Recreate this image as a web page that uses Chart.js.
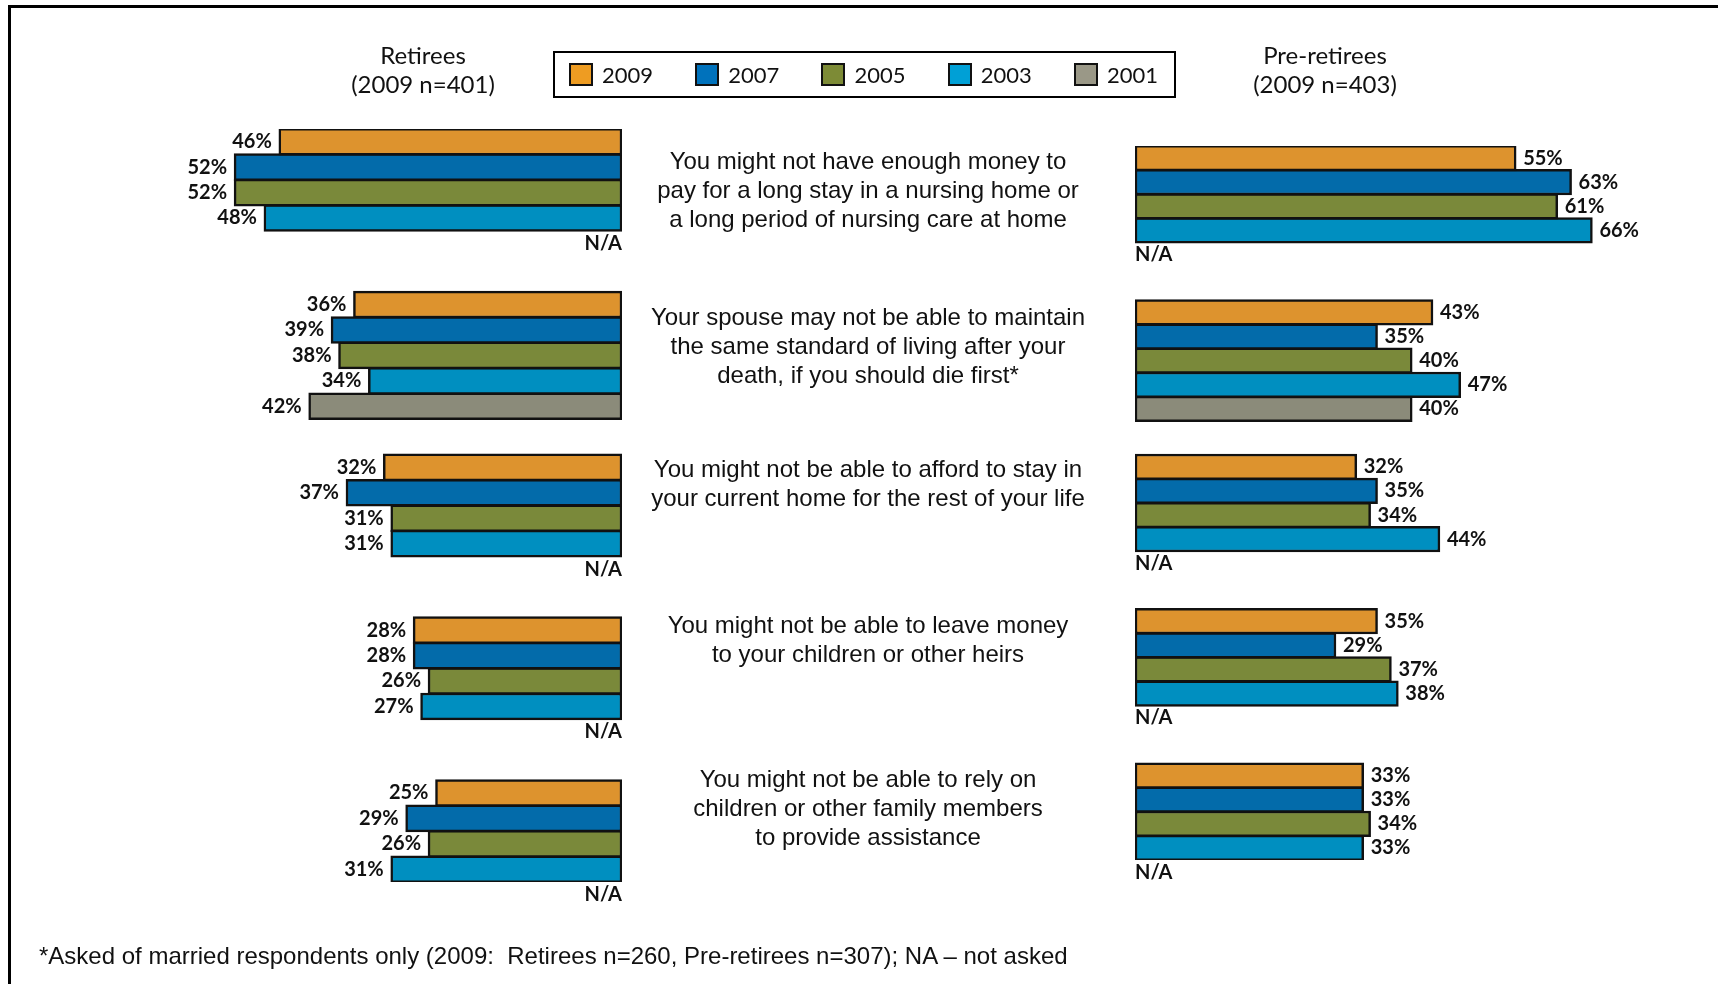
<!DOCTYPE html>
<html>
<head>
<meta charset="utf-8">
<title>Retirement risks</title>
<script src="https://cdn.jsdelivr.net/npm/chart.js@4.4.0/dist/chart.umd.min.js"></script>
<style>
  html, body { margin: 0; padding: 0; background: #fff; }
  #page { position: relative; width: 1718px; height: 984px; overflow: hidden; font-family: Lato, "Noto Sans", sans-serif; color: #111; }
  #frame { position: absolute; left: 8px; top: 5px; width: 2000px; height: 2000px; border-top: 3px solid #000; border-left: 3px solid #000; }
  canvas { position: absolute; left: 0; top: 0; }
  .head { position: absolute; top: 40px; width: 300px; text-align: center; font-size: 24px; line-height: 29px; }
  .question { position: absolute; left: 568px; width: 600px; text-align: center; font-family: "Liberation Sans", Arial, sans-serif; font-size: 24px; line-height: 29px; color: #111; }
  #legend { position: absolute; left: 553px; top: 51px; width: 623px; height: 47px; box-sizing: border-box; border: 2.5px solid #000; display: flex; align-items: center; justify-content: space-between; padding: 0 16px 0 14px; font-size: 22px; }
  #legend .item { display: flex; align-items: center; }
  #legend .swatch { width: 24px; height: 23px; box-sizing: border-box; border: 2px solid #111; margin-right: 9px; }
  #footnote { position: absolute; left: 39px; top: 943px; font-family: "Liberation Sans", Arial, sans-serif; font-size: 24px; line-height: 26px; white-space: pre; }
</style>
</head>
<body>
<div id="page">
  <div id="frame"></div>
  <canvas id="leftChart" width="1718" height="984"></canvas>
  <canvas id="rightChart" width="1718" height="984"></canvas>
  <div class="head" style="left:273px">Retirees<br>(2009 n=401)</div>
  <div class="head" style="left:1175px">Pre-retirees<br>(2009 n=403)</div>
  <div id="legend"></div>
  <div id="questions"></div>
  <div id="footnote">*Asked of married respondents only (2009:  Retirees n=260, Pre-retirees n=307); NA – not asked</div>
</div>

<script>
// Survey statements (line breaks as in the original)
const questions = [
  ['You might not have enough money to', 'pay for a long stay in a nursing home or', 'a long period of nursing care at home'],
  ['Your spouse may not be able to maintain', 'the same standard of living after your', 'death, if you should die first*'],
  ['You might not be able to afford to stay in', 'your current home for the rest of your life'],
  ['You might not be able to leave money', 'to your children or other heirs'],
  ['You might not be able to rely on', 'children or other family members', 'to provide assistance']
];

const years = ['2009', '2007', '2005', '2003', '2001'];

// Retirees (% per statement), null = not asked
const retirees2009 = [46, 36, 32, 28, 25];
const retirees2007 = [52, 39, 37, 28, 29];
const retirees2005 = [52, 38, 31, 26, 26];
const retirees2003 = [48, 34, 31, 27, 31];
const retirees2001 = [null, 42, null, null, null];

// Pre-retirees
const pre2009 = [55, 43, 32, 35, 33];
const pre2007 = [63, 35, 35, 29, 33];
const pre2005 = [61, 40, 34, 37, 34];
const pre2003 = [66, 47, 44, 38, 33];
const pre2001 = [null, 40, null, null, null];

// Styling
const barColors = ['#DD932E', '#036BAA', '#7A893A', '#008FC0', '#8B8B7A'];
const legendColors = ['#EE9C22', '#0072BC', '#7D8B36', '#00A0D6', '#9A9887'];
const questionTops = [146, 302, 454, 610, 764];

// vertical layout in "bar units": one unit per bar, groups 6.4 units apart
const GROUP_PITCH = 6.4;
const Y_MAX = (questions.length - 1) * GROUP_PITCH + 4;

// Legend
const legendEl = document.getElementById('legend');
years.forEach((y, i) => {
  const item = document.createElement('div');
  item.className = 'item';
  item.innerHTML = '<span class="swatch" style="background:' + legendColors[i] + '"></span>' + y;
  legendEl.appendChild(item);
});

// Questions
const qEl = document.getElementById('questions');
questions.forEach((lines, i) => {
  const d = document.createElement('div');
  d.className = 'question';
  d.style.top = questionTops[i] + 'px';
  d.innerHTML = lines.join('<br>');
  qEl.appendChild(d);
});

// Value / N/A labels
const barLabels = {
  id: 'barLabels',
  afterDatasetsDraw(chart) {
    const ctx = chart.ctx;
    const xScale = chart.scales.x;
    const yScale = chart.scales.y;
    const flip = chart.options.scales.x.reverse;
    const zero = xScale.getPixelForValue(0);
    ctx.save();
    ctx.fillStyle = '#111';
    ctx.font = 'bold 20px Lato';
    ctx.textBaseline = 'middle';
    ctx.textAlign = flip ? 'right' : 'left';
    chart.data.datasets.forEach((ds, di) => {
      const meta = chart.getDatasetMeta(di);
      meta.data.forEach((bar, i) => {
        const raw = ds.data[i];
        const y = yScale.getPixelForValue(raw.y);
        if (raw.x === null) {
          ctx.fillText('N/A', zero, y);
        } else {
          ctx.fillText(raw.x + '%', flip ? bar.x - 7 : bar.x + 7, y);
        }
      });
    });
    ctx.restore();
  }
};

function makeChart(id, series, opts) {
  const unitPx = (opts.bottom - opts.top) / Y_MAX;
  const datasets = series.map((values, s) => ({
    label: years[s],
    data: values.map((v, g) => ({ x: v, y: g * GROUP_PITCH + s + 0.5 })),
    backgroundColor: barColors[s],
    borderColor: '#111',
    borderWidth: 2.5,
    borderSkipped: false,
    grouped: false,
    barThickness: unitPx + 1.5
  }));

  const span = 70 * opts.pxPerPct;
  const padding = opts.reverse
    ? { left: opts.zeroX - span, right: 1718 - opts.zeroX, top: opts.top, bottom: 984 - opts.bottom }
    : { left: opts.zeroX, right: 1718 - opts.zeroX - span, top: opts.top, bottom: 984 - opts.bottom };

  return new Chart(document.getElementById(id), {
    type: 'bar',
    data: { datasets: datasets },
    options: {
      indexAxis: 'y',
      responsive: false,
      animation: false,
      layout: { padding: padding },
      plugins: { legend: { display: false }, tooltip: { enabled: false } },
      scales: {
        x: { type: 'linear', min: 0, max: 70, reverse: opts.reverse, display: false },
        y: { type: 'linear', min: 0, max: Y_MAX, reverse: true, offset: false, display: false }
      }
    },
    plugins: [barLabels]
  });
}

document.fonts.load('bold 20px Lato').then(function() {
  makeChart('leftChart',
    [retirees2009, retirees2007, retirees2005, retirees2003, retirees2001],
    { reverse: true, zeroX: 622, pxPerPct: 7.46, top: 129, bottom: 882 });
  makeChart('rightChart',
    [pre2009, pre2007, pre2005, pre2003, pre2001],
    { reverse: false, zeroX: 1135, pxPerPct: 6.93, top: 146, bottom: 860 });
});
</script>
</body>
</html>
